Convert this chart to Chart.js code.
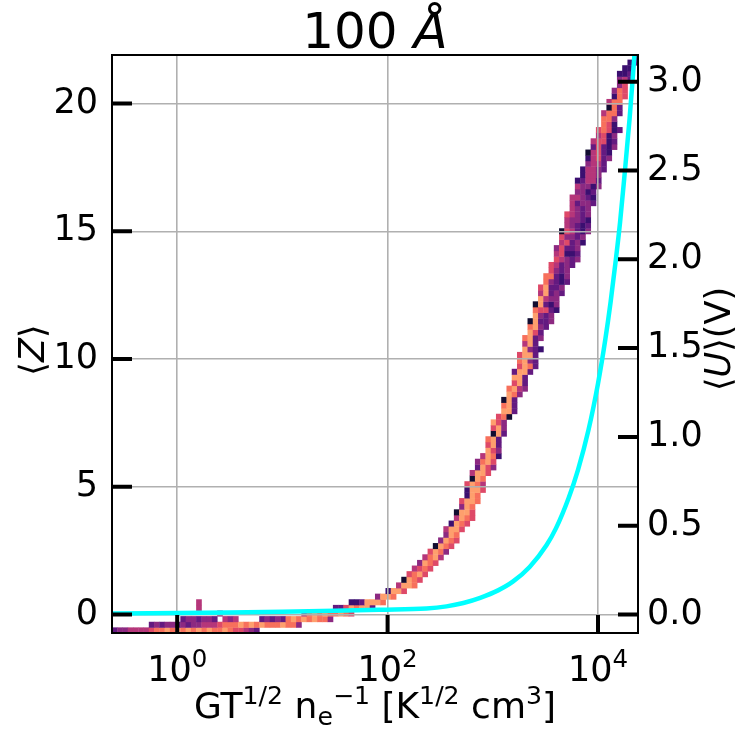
<!DOCTYPE html>
<html>
<head>
<meta charset="utf-8">
<script src="https://cdn.jsdelivr.net/npm/chart.js@4.4.0/dist/chart.umd.min.js"></script>
<style>
  html, body { margin: 0; background: #fff; }
</style>
</head>
<body>
<canvas id="c" width="750" height="750"></canvas>
<script>
// axis ranges and ticks
const xMin = 0.24, xMax = 24000;
const zMin = -0.72, zMax = 21.9;
const uMin = -0.104, uMax = 3.15;
const xTicks = [1, 100, 10000];
const xTickExp = ["0", "2", "4"];
const zTicks = [0, 5, 10, 15, 20];
const uTicks = [0, 0.5, 1, 1.5, 2, 2.5, 3];

// <U> curve (right axis)
const uX = [0.24, 3.16, 10, 31.6, 85, 234, 363, 525, 759, 1122, 1549, 2239, 3236, 3981,
            5248, 6457, 8128, 10000, 11749, 13183, 14791, 16218, 17783, 19953, 21380, 23768];
const uV = [0.006, 0.012, 0.016, 0.021, 0.027, 0.034, 0.046, 0.065, 0.094, 0.136, 0.185, 0.268, 0.39, 0.485,
            0.655, 0.815, 1.04, 1.30, 1.55, 1.76, 2.0, 2.21, 2.46, 2.79, 3.02, 3.39];

// 2d histogram bins: log10(x) columns, <Z> rows
const logBin0 = -0.62, logBinW = 0.05;
const zBin0 = -0.72, zBinH = 0.22;
// [row, first column, colour level per cell ('.' = empty)]
const cellRows = [
  [0, 0, "3445555677878787878778766543"],
  [1, 7, "34344343445556777878787778774"],
  [2, 13, "3443443.545....34343787878774"],
  [3, 20, "4"], [3, 36, "5787877876"],
  [4, 16, "5"], [4, 42, "33687883"],
  [5, 16, "5"], [5, 45, "2238887"],
  [6, 50, "4887"], [7, 52, "2886"], [8, 54, "5887"], [9, 55, "1876"],
  [10, 56, "6786"], [11, 57, "5676"], [12, 58, "4876"], [13, 59, "5785"],
  [14, 60, "6874"], [15, 61, "1876"], [16, 62, "4876"], [17, 63, "487"],
  [18, 63, "5886"], [19, 64, "2876"], [20, 65, "5876"], [21, 65, "1886"],
  [22, 66, "487"], [23, 66, "6887"], [24, 67, "287"], [25, 67, "2886"],
  [26, 67, "6875"], [27, 68, "187"], [28, 68, "5886"], [29, 69, "3864"],
  [30, 69, "4786"], [31, 70, "5872"], [32, 71, "864"], [33, 71, "683"],
  [34, 71, "783"], [35, 72, "183"], [36, 72, "684"], [37, 72, "864"],
  [38, 73, "671"], [39, 74, "883"], [40, 74, "783"], [41, 74, "183"],
  [42, 75, "874"], [43, 75, "7854"], [44, 76, "683"], [45, 76, "883"],
  [46, 76, "3883"], [47, 77, "6873"], [48, 77, "7843"], [49, 77, "6883"],
  [50, 78, "8432"], [51, 78, "583"], [52, 78, "7834"], [53, 79, "863"],
  [54, 79, "7843"], [55, 79, "18334"], [56, 80, "8434"], [57, 80, "76632"],
  [58, 80, "18324"], [59, 81, "8544"], [60, 81, "58343"], [61, 81, "68334"],
  [62, 82, "74323"], [63, 82, "77324"], [64, 83, "6434"], [65, 83, "65343"],
  [66, 84, "65434"], [67, 84, "56223"], [68, 84, "46334"], [69, 85, "56342"],
  [70, 85, "64434"], [71, 85, "165324"], [72, 86, "54323"], [73, 86, "54432"],
  [74, 86, "65434"], [75, 87, "5434"], [76, 87, "53443"], [77, 87, "55432"],
  [78, 88, "4423"], [79, 88, "54424"], [80, 88, "23553"], [81, 89, "2554"],
  [82, 89, "25543"], [83, 90, "4553"], [84, 90, "25634"], [85, 90, "15632"],
  [86, 91, "36324"], [87, 91, "56623"], [88, 92, "5624"], [89, 92, "67623"],
  [90, 93, "762"], [91, 93, "774"], [92, 93, "5773"], [93, 94, "173"],
  [94, 94, "577"], [95, 95, "276"], [96, 95, "476"], [97, 96, "46"],
  [98, 96, "453"], [99, 96, "223"], [100, 97, "22"], [101, 98, "23"],
  [102, 99, "3"]
];

// magma shades for the levels above
const magma = {
  "1": "#120d31", "2": "#3b0f70", "3": "#641a80", "4": "#8c2981",
  "5": "#b5367a", "6": "#de4968", "7": "#f7705c", "8": "#fe9f6d"
};

const FONT = '"DejaVu Sans"';

function fontOf(p, size) {
  const s = p.s ? size * 0.7 : size;
  return (p.i ? "italic " : "") + s + "px " + FONT;
}

function drawRich(ctx, parts, cx, y, size) {
  let w = 0;
  for (const p of parts) { ctx.font = fontOf(p, size); w += ctx.measureText(p.t).width; }
  let x = cx - w / 2;
  ctx.textAlign = "left";
  ctx.textBaseline = "alphabetic";
  for (const p of parts) {
    ctx.font = fontOf(p, size);
    const dy = p.s === "sup" ? -size * 0.4 : p.s === "sub" ? size * 0.2 : 0;
    ctx.fillText(p.t, x, y + dy);
    x += ctx.measureText(p.t).width;
  }
}

// histogram cells, below grid and curve
const heatPlugin = {
  id: "heat",
  beforeDraw(c) {
    const { ctx, chartArea: a, scales: { x, y } } = c;
    ctx.save();
    ctx.beginPath();
    ctx.rect(a.left, a.top, a.width, a.height);
    ctx.clip();
    for (const [row, col, codes] of cellRows) {
      const yb = y.getPixelForValue(zBin0 + row * zBinH);
      const yt = y.getPixelForValue(zBin0 + (row + 1) * zBinH);
      for (let k = 0; k < codes.length; k++) {
        const ch = codes[k];
        if (ch === ".") continue;
        const i = col + k;
        const xl = x.getPixelForValue(Math.pow(10, logBin0 + i * logBinW));
        const xr = x.getPixelForValue(Math.pow(10, logBin0 + (i + 1) * logBinW));
        ctx.fillStyle = magma[ch];
        ctx.fillRect(xl, yt, xr - xl + 0.4, yb - yt + 0.4);
      }
    }
    ctx.restore();
  }
};

// frame, inward ticks, texts
const framePlugin = {
  id: "frame",
  afterDraw(c) {
    const { ctx, chartArea: a, scales: { x, y, y2 } } = c;
    ctx.save();
    ctx.strokeStyle = "#000";
    ctx.lineWidth = 2;
    ctx.strokeRect(a.left, a.top, a.right - a.left, a.bottom - a.top);

    ctx.lineWidth = 4;
    ctx.beginPath();
    for (const v of zTicks) {
      const py = y.getPixelForValue(v);
      ctx.moveTo(a.left, py); ctx.lineTo(a.left + 20, py);
    }
    for (const v of uTicks) {
      const py = y2.getPixelForValue(v);
      ctx.moveTo(a.right - 20, py); ctx.lineTo(a.right, py);
    }
    for (const v of xTicks) {
      const px = x.getPixelForValue(v);
      ctx.moveTo(px, a.bottom); ctx.lineTo(px, a.bottom - 18);
    }
    ctx.stroke();

    ctx.fillStyle = "#000";
    xTicks.forEach((v, i) => {
      drawRich(ctx, [{ t: "10" }, { t: xTickExp[i], s: "sup" }], x.getPixelForValue(v), 681, 35);
    });

    drawRich(ctx, [
      { t: "GT" }, { t: "1/2", s: "sup" }, { t: " n" }, { t: "e", s: "sub" }, { t: "\u22121", s: "sup" },
      { t: " [K" }, { t: "1/2", s: "sup" }, { t: " cm" }, { t: "3", s: "sup" }, { t: "]" }
    ], (a.left + a.right) / 2, 718, 36);

    drawRich(ctx, [{ t: "100 " }, { t: "\u00c5", i: true }], (a.left + a.right) / 2, 48, 50);

    ctx.save();
    ctx.translate(44, 350);
    ctx.rotate(-Math.PI / 2);
    drawRich(ctx, [{ t: "\u27e8" }, { t: "Z", i: true }, { t: "\u27e9" }], 0, 0, 35);
    ctx.restore();

    ctx.save();
    ctx.translate(730, 339);
    ctx.rotate(-Math.PI / 2);
    drawRich(ctx, [{ t: "\u27e8" }, { t: "U", i: true }, { t: "\u27e9(V)" }], 0, 0, 35);
    ctx.restore();

    ctx.restore();
  }
};

const gridStyle = { color: "#b0b0b0", lineWidth: 1.6, drawTicks: false };

new Chart(document.getElementById("c"), {
  type: "line",
  data: {
    datasets: [{
      data: uX.map((v, i) => ({ x: v, y: uV[i] })),
      xAxisID: "x",
      yAxisID: "y2",
      borderColor: "#00ffff",
      borderWidth: 4.5,
      pointRadius: 0,
      cubicInterpolationMode: "monotone",
      fill: false
    }]
  },
  options: {
    responsive: false,
    animation: false,
    layout: { padding: { top: 55, left: 0, right: 0, bottom: 0 } },
    plugins: { legend: { display: false }, tooltip: { enabled: false }, title: { display: false } },
    scales: {
      x: {
        type: "logarithmic", position: "bottom", min: xMin, max: xMax,
        afterBuildTicks: s => { s.ticks = xTicks.map(v => ({ value: v })); },
        afterFit: s => { s.height = 117; },
        ticks: { display: false },
        grid: gridStyle,
        border: { display: false }
      },
      y: {
        type: "linear", position: "left", min: zMin, max: zMax,
        afterBuildTicks: s => { s.ticks = zTicks.map(v => ({ value: v })); },
        afterFit: s => { s.width = 112; },
        ticks: { color: "#000", padding: 14, font: { family: "DejaVu Sans", size: 35 }, callback: v => String(v) },
        grid: gridStyle,
        border: { display: false }
      },
      y2: {
        type: "linear", position: "right", min: uMin, max: uMax,
        afterBuildTicks: s => { s.ticks = uTicks.map(v => ({ value: v })); },
        afterFit: s => { s.width = 112; },
        ticks: { color: "#000", padding: 9, font: { family: "DejaVu Sans", size: 35 }, callback: v => v.toFixed(1) },
        grid: { display: false, drawTicks: false },
        border: { display: false }
      }
    }
  },
  plugins: [heatPlugin, framePlugin]
});
</script>
</body>
</html>
